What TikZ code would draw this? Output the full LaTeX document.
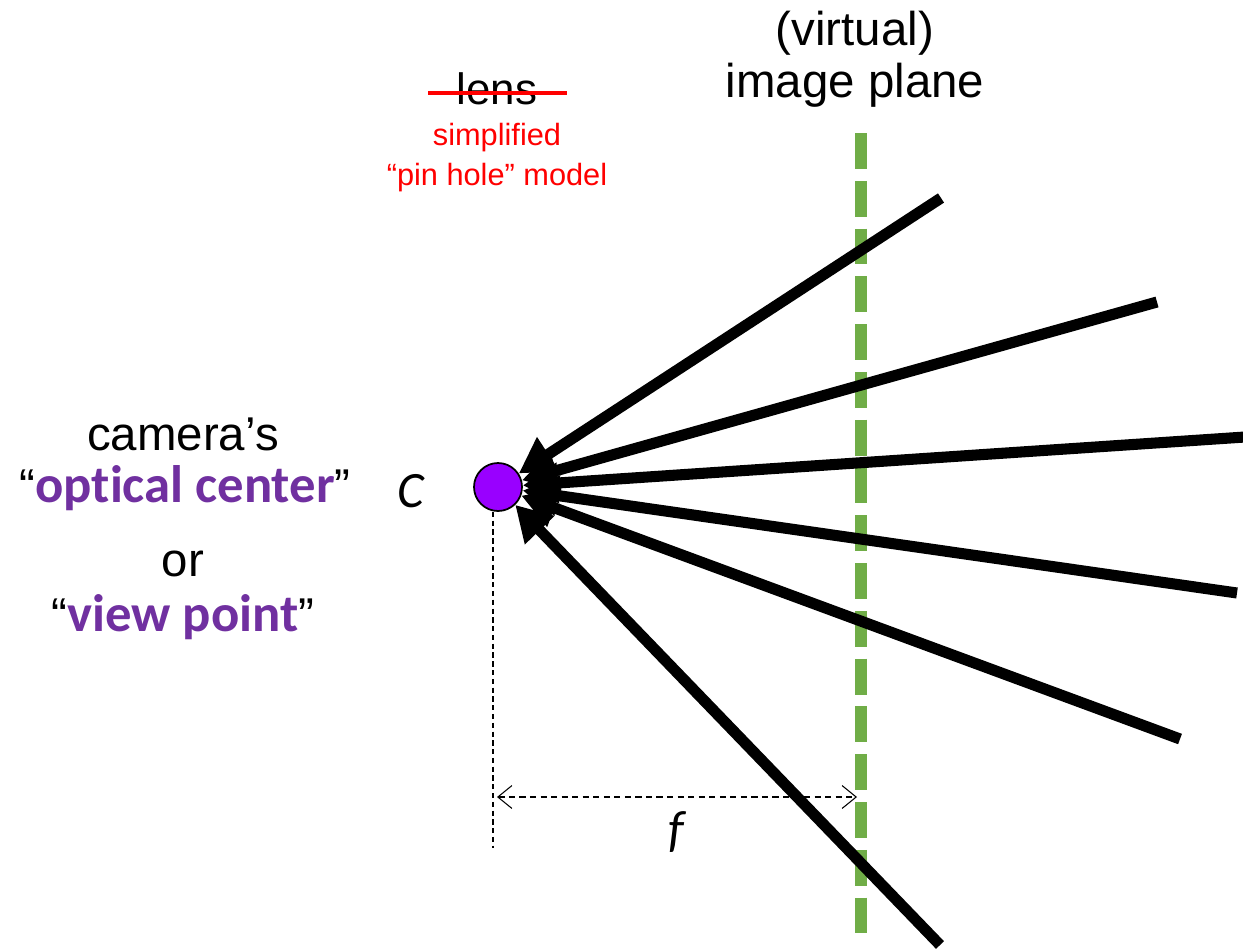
\documentclass[tikz,border=0pt]{standalone}
\usepackage{fontspec}
\setmainfont{Liberation Sans}
\newfontfamily\calibri[Ligatures=NoCommon]{Carlito}
\usetikzlibrary{arrows.meta, positioning}

\definecolor{ocpurple}{HTML}{7030A0}
\definecolor{ptviolet}{HTML}{9900FF}
\definecolor{planegreen}{HTML}{70AD47}

\tikzset{
  lbl/.style={anchor=base, inner sep=0pt, font=\fontsize{27}{32}\selectfont},
  redlbl/.style={lbl, text=red, font=\fontsize{17.5}{21}\selectfont},
  ray/.style={line width=6.3pt, -{Triangle[length=20pt, width=22pt]}},
}

\begin{document}
\begin{tikzpicture}[x=0.02cm, y=-0.02cm]
  \useasboundingbox (0,0) rectangle (1243,950);

  % image plane
  \draw[planegreen, line width=6.8pt, dash pattern=on 20.4pt off 6.8pt]
    (861,133) -- (861,935);

  % labels at the top
  \node[lbl] (virt) at (855,45) {(virtual)};
  \node[lbl] (plane) at (855,97) {image plane};
  \node[lbl, font=\fontsize{25}{30}\selectfont] (lens) at (497,104) {lens};
  \draw[red, line width=2.8pt] (428,93) -- (567,93);
  \node[redlbl] (simp) at (497,145) {simplified};
  \node[redlbl] (pinh) at (497,185) {“pin hole” model};

  % optical center
  \node[circle, draw, line width=1pt, fill=ptviolet, minimum size=48*0.02cm,
        inner sep=0pt] (oc) at (498,487) {};
  \node[anchor=base, inner sep=0pt, font=\calibri\itshape\fontsize{29}{34}\selectfont]
    (cl) at (411,507) {C};

  \node[lbl] (cam) at (183,450) {camera’s};
  \node[lbl] (opt) at (185,502) {“{\calibri\bfseries\fontsize{30}{36}\selectfont\color{ocpurple}optical center}”};
  \node[lbl] (or) at (183,576) {or};
  \node[lbl] (vp) at (183,631) {“{\calibri\bfseries\fontsize{30}{36}\selectfont\color{ocpurple}view point}”};

  % rays
  \foreach \i/\px/\py in {1/941/198, 2/1157/302, 3/1245/437, 4/1237/593, 5/1180/739, 6/940/945}{
    \coordinate (r\i) at (\px,\py);
    \draw[ray] (r\i) -- (oc);
  }

  % focal length
  \coordinate (fbot) at (493,848);
  \draw[dashed, line width=0.6pt, dash pattern=on 3pt off 2pt] (oc.south -| fbot) -- (fbot);
  \coordinate (fl) at (497,797);
  \coordinate (fr) at (857,797);
  \draw[line width=0.6pt, dash pattern=on 3.5pt off 2.5pt,
        {Straight Barb[length=8pt, width=13pt]}-{Straight Barb[length=8pt, width=13pt]}] (fl) -- (fr);
  \node[anchor=base, inner sep=0pt, font=\calibri\itshape\fontsize{29}{34}\selectfont]
    (f) at (676,846) {f};
\end{tikzpicture}
\end{document}
